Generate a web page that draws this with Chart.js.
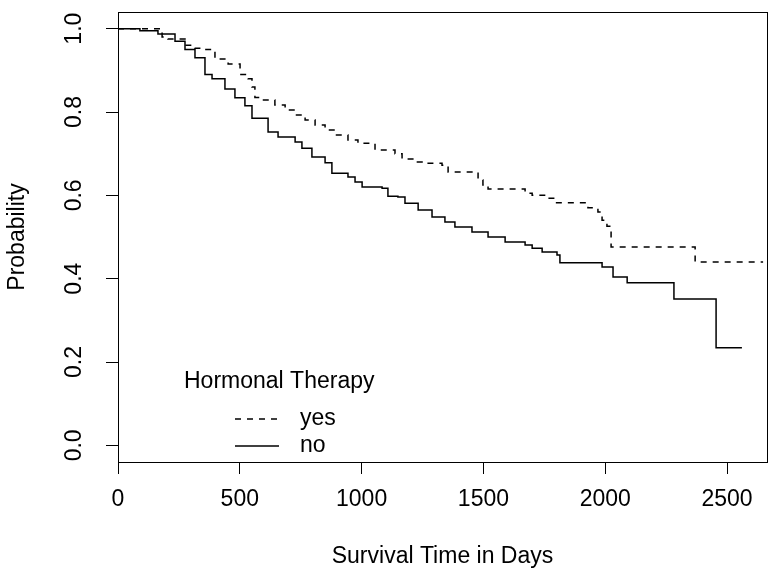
<!DOCTYPE html>
<html>
<head>
<meta charset="utf-8">
<script src="https://cdn.jsdelivr.net/npm/chart.js@4.4.0/dist/chart.umd.min.js"></script>
<style>
  html, body { margin: 0; padding: 0; background: #fff; }
  #wrap { width: 782px; height: 572px; position: relative; }
</style>
</head>
<body>
<div id="wrap"><canvas id="km"></canvas></div>
<script>
// Kaplan-Meier estimates (days, survival probability)
const yesTime = [0, 164, 181, 205, 275, 316, 357, 398, 452, 501, 534, 550, 562, 591, 644, 686, 727, 768, 809, 850, 891, 944, 985, 1055, 1137, 1166, 1219, 1248, 1330, 1355, 1478, 1498, 1519, 1671, 1700, 1765, 1794, 1929, 1970, 1987, 2007, 2024, 2369, 2648];
const yesSurv = [1, 1, 0.98, 0.975, 0.96, 0.953, 0.95, 0.927, 0.915, 0.89, 0.88, 0.86, 0.835, 0.829, 0.817, 0.805, 0.793, 0.781, 0.769, 0.757, 0.745, 0.733, 0.725, 0.709, 0.70, 0.687, 0.68, 0.677, 0.672, 0.656, 0.637, 0.625, 0.615, 0.605, 0.60, 0.593, 0.582, 0.57, 0.56, 0.54, 0.526, 0.476, 0.44, 0.44];

const noTime = [0, 90, 164, 234, 275, 316, 357, 386, 439, 480, 521, 550, 616, 657, 727, 755, 796, 850, 878, 944, 973, 1002, 1084, 1108, 1149, 1178, 1232, 1289, 1342, 1383, 1453, 1519, 1589, 1671, 1700, 1741, 1802, 1814, 1987, 2032, 2090, 2282, 2455, 2561];
const noSurv = [1, 0.995, 0.987, 0.97, 0.95, 0.93, 0.89, 0.88, 0.855, 0.834, 0.815, 0.785, 0.752, 0.74, 0.728, 0.713, 0.692, 0.678, 0.653, 0.644, 0.632, 0.62, 0.617, 0.598, 0.596, 0.581, 0.565, 0.548, 0.536, 0.524, 0.512, 0.5, 0.488, 0.481, 0.473, 0.464, 0.457, 0.438, 0.428, 0.404, 0.39, 0.351, 0.234, 0.234];

const xTicks = [0, 500, 1000, 1500, 2000, 2500];
const yTicks = [0, 0.2, 0.4, 0.6, 0.8, 1.0];
const groups = ["yes", "no"];
const legendTitle = "Hormonal Therapy";

const FONT = "'Liberation Sans', Arial, sans-serif";
const FS = 23;

const toPts = (t, s) => t.map((v, i) => ({ x: v, y: s[i] }));

// box around plot region + rotated y labels + legend (R style)
const rStyle = {
  id: "rStyle",
  afterDraw(chart) {
    const ctx = chart.ctx;
    const a = chart.chartArea;
    const ys = chart.scales.y;
    ctx.save();
    ctx.strokeStyle = "#000";
    ctx.lineWidth = 1;
    ctx.strokeRect(a.left + 0.5, a.top + 0.5, a.right - a.left, a.bottom - a.top);

    ctx.fillStyle = "#000";
    ctx.font = FS + "px " + FONT;
    ctx.textAlign = "center";
    ctx.textBaseline = "middle";
    yTicks.forEach(v => {
      const py = ys.getPixelForValue(v);
      ctx.save();
      ctx.translate(75, py);
      ctx.rotate(-Math.PI / 2);
      ctx.fillText(v.toFixed(1), 0, 0);
      ctx.restore();
    });

    // legend
    ctx.textAlign = "left";
    ctx.fillText(legendTitle, 184, 382);
    ctx.lineWidth = 1.5;
    ctx.setLineDash([6, 6]);
    ctx.beginPath(); ctx.moveTo(235, 419); ctx.lineTo(279, 419); ctx.stroke();
    ctx.setLineDash([]);
    ctx.beginPath(); ctx.moveTo(235, 446); ctx.lineTo(279, 446); ctx.stroke();
    ctx.fillText(groups[0], 300, 419);
    ctx.fillText(groups[1], 300, 446);
    ctx.restore();
  }
};

new Chart(document.getElementById("km"), {
  type: "line",
  data: {
    datasets: [
      { label: groups[0], data: toPts(yesTime, yesSurv), borderColor: "#000", borderWidth: 1.5, borderDash: [6, 6], stepped: true, pointRadius: 0, fill: false },
      { label: groups[1], data: toPts(noTime, noSurv), borderColor: "#000", borderWidth: 1.5, stepped: true, pointRadius: 0, fill: false }
    ]
  },
  options: {
    responsive: true,
    maintainAspectRatio: false,
    animation: false,
    events: [],
    layout: { padding: { top: 12, right: 15, left: 0, bottom: 0 } },
    plugins: { legend: { display: false }, tooltip: { enabled: false } },
    scales: {
      x: {
        type: "linear",
        min: 0, max: 2664,
        afterBuildTicks: s => { s.ticks = xTicks.map(v => ({ value: v })); },
        afterFit: s => { s.height = 110; },
        ticks: { color: "#000", font: { family: FONT, size: FS }, padding: 12, maxRotation: 0, autoSkip: false, callback: v => String(v) },
        grid: { drawOnChartArea: false, drawTicks: true, tickLength: 12, color: "#000" },
        border: { color: "#000" },
        title: { display: true, text: "Survival Time in Days", color: "#000", font: { family: FONT, size: FS }, padding: { top: 0, bottom: 2 } }
      },
      y: {
        type: "linear",
        min: -0.04, max: 1.04,
        afterBuildTicks: s => { s.ticks = yTicks.map(v => ({ value: v })); },
        afterFit: s => { s.width = 118; },
        ticks: { display: false },
        grid: { drawOnChartArea: false, drawTicks: true, tickLength: 12, color: "#000" },
        border: { color: "#000" },
        title: { display: true, text: "Probability", color: "#000", font: { family: FONT, size: FS }, padding: { top: 4, bottom: 0 } }
      }
    }
  },
  plugins: [rStyle]
});
</script>
</body>
</html>
